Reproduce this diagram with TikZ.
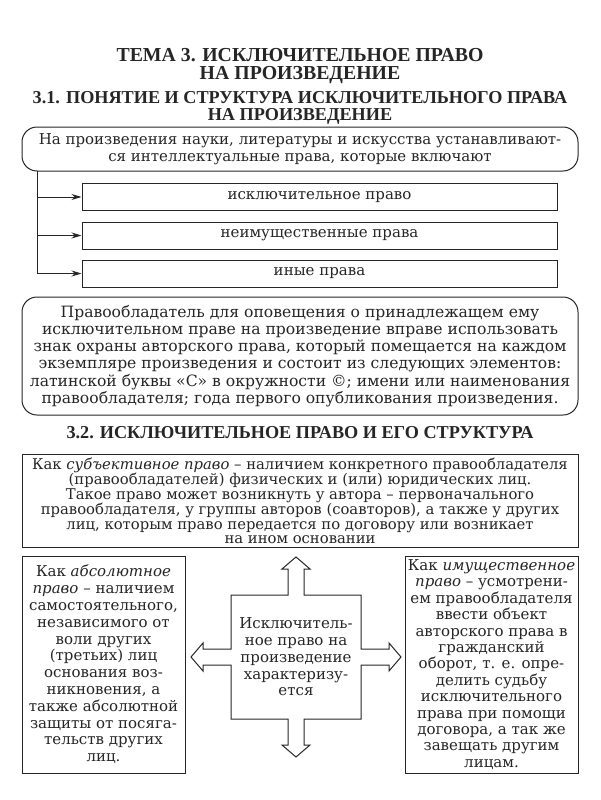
\documentclass[tikz,border=0pt]{standalone}
\usepackage{fontspec}
\setmainfont{DejaVu Serif}
\newfontfamily\headfont{Liberation Serif}
\usetikzlibrary{arrows.meta}
\definecolor{ink}{HTML}{262626}
\tikzset{
  body/.style={font=\fontsize{15}{16.8}\selectfont,text=ink,align=center},
  head/.style={font=\headfont\bfseries\fontsize{18.2}{16.5}\selectfont,text=ink,align=center},
  roundbox/.style={body,draw=ink,line width=1pt,rounded corners=15pt,inner sep=0pt},
  plainbox/.style={body,draw=ink,line width=1pt,inner sep=0pt},
  feed/.style={draw=ink,line width=1pt,-{Stealth[length=10pt,width=6pt]}},
  outline/.style={draw=ink,line width=1pt,line join=miter}
}

\begin{document}
\begin{tikzpicture}[x=1pt,y=-1pt]
  \fill[white] (0,0) rectangle (600,800);
  \useasboundingbox (0,0) rectangle (600,800);
  % titles
  \node[head,font=\headfont\bfseries\fontsize{19.8}{18.5}\selectfont] (title) at (300,66)
    {ТЕМА 3. ИСКЛЮЧИТЕЛЬНОЕ ПРАВО\\НА ПРОИЗВЕДЕНИЕ};
  \node[head] (sub1) at (300,108)
    {3.1. ПОНЯТИЕ И СТРУКТУРА ИСКЛЮЧИТЕЛЬНОГО ПРАВА\\НА ПРОИЗВЕДЕНИЕ};
  % part 3.1
  \node[roundbox,minimum width=556,minimum height=44] (intro) at (300,149)
    {На произведения науки, литературы и искусства устанавливают-\\ся интеллектуальные права, которые включают};
  \node[plainbox,minimum width=475,minimum height=27] (excl) at (319.5,197) {исключительное право};
  \node[plainbox,minimum width=475,minimum height=27] (nonprop) at (319.5,235.5) {неимущественные права};
  \node[plainbox,minimum width=475,minimum height=27] (other) at (319.5,273.5) {иные права};
  \coordinate (trunk) at (37,171);
  \draw[feed] (trunk) |- (other.west);
  \foreach \n in {excl,nonprop}
    \draw[feed] (trunk |- \n.west) -- (\n.west);
  \node[roundbox,font=\fontsize{15.6}{17.3}\selectfont,minimum width=556,minimum height=118] (notice) at (300,356)
    {Правообладатель для оповещения о принадлежащем ему\\
     исключительном праве на произведение вправе использовать\\
     знак охраны авторского права, который помещается на каждом\\
     экземпляре произведения и состоит из следующих элементов:\\
     латинской буквы «C» в окружности ©; имени или наименования\\
     правообладателя; года первого опубликования произведения.};
  % part 3.2
  \node[head] (sub2) at (300,433) {3.2. ИСКЛЮЧИТЕЛЬНОЕ ПРАВО И ЕГО СТРУКТУРА};
  \node[plainbox,font=\fontsize{14.8}{14.9}\selectfont,minimum width=556,minimum height=93] (subj) at (300,501)
    {Как \textit{субъективное право} – наличием конкретного правообладателя\\
     (правообладателей) физических и (или) юридических лиц.\\
     Такое право может возникнуть у автора – первоначального\\
     правообладателя, у группы авторов (соавторов), а также у других\\
     лиц, которым право передается по договору или возникает\\
     на ином основании};
  \node[plainbox,minimum width=163,minimum height=217] (absol) at (103.5,664.5)
    {Как \textit{абсолютное}\\ \textit{право} – наличием\\самостоятельного,\\независимого от\\воли других\\(третьих) лиц\\основания воз-\\никновения, а\\также абсолютной\\защиты от посяга-\\тельств других\\лиц.};
  \node[plainbox,font=\fontsize{15}{16.4}\selectfont,minimum width=173,minimum height=217] (prop) at (491.5,664.5)
    {Как \textit{имущественное}\\ \textit{право} – усмотрени-\\ем правообладателя\\ввести объект\\авторского права в\\гражданский\\оборот, т. е. опре-\\делить судьбу\\исключительного\\права при помощи\\договора, а так же\\завещать другим\\лицам.};
  \node[body] (core) at (296,657)
    {Исключитель-\\ное право на\\произведение\\характеризу-\\ется};
  \begin{scope}[shift={(core.center)}]
    \draw[outline] (-65,-62) -- (-8,-62) -- (-8,-88) -- (-14,-88) -- (0,-100) -- (14,-88) -- (8,-88) -- (8,-62)
      -- (65,-62) -- (65,-8) -- (93,-8) -- (93,-14) -- (105,0) -- (93,14) -- (93,8) -- (65,8)
      -- (65,62) -- (8,62) -- (8,88) -- (14,88) -- (0,100) -- (-14,88) -- (-8,88) -- (-8,62)
      -- (-65,62) -- (-65,8) -- (-93,8) -- (-93,14) -- (-105,0) -- (-93,-14) -- (-93,-8) -- (-65,-8) -- cycle;
  \end{scope}
\end{tikzpicture}
\end{document}
